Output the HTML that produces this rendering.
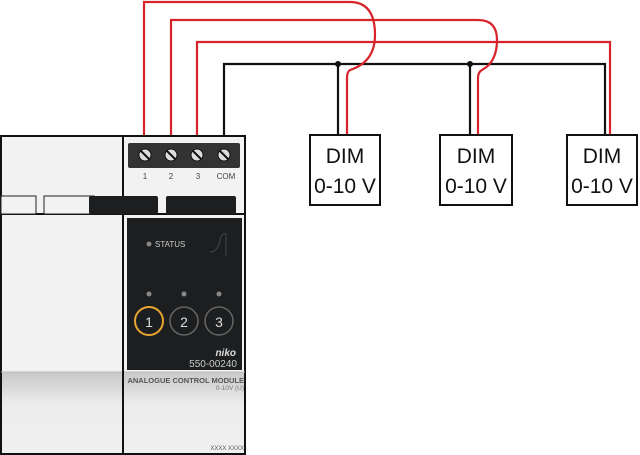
<!DOCTYPE html>
<html><head><style>body{margin:0;background:#fff}svg{display:block}</style></head><body>
<svg width="640" height="455" viewBox="0 0 640 455" xmlns="http://www.w3.org/2000/svg" font-family="Liberation Sans, sans-serif">
<defs><linearGradient id="g" x1="0" y1="0" x2="0" y2="1"><stop offset="0" stop-color="#c8c8c8"/><stop offset="0.4" stop-color="#ececec"/><stop offset="1" stop-color="#f0f0f0"/></linearGradient></defs>
<!-- wires -->
<g fill="none" stroke-width="2.2">
<path d="M224 137 V64 H605 V135" stroke="#111"/>
<path d="M338 64 V135 M470 64 V135" stroke="#111"/>
<path d="M144 137 V2 H350 Q375 2 375 35 Q375 62 350 70 Q347 72 347 78 V135" stroke="#d9232a"/>
<path d="M171 137 V20 H478 Q497 20 497 40 Q497 62 482 70 Q478 72 478 78 V135" stroke="#d9232a"/>
<path d="M197 137 V42 H610 V135" stroke="#d9232a"/>
</g>
<circle cx="338" cy="64" r="3" fill="#111"/><circle cx="470" cy="64" r="3" fill="#111"/>
<!-- DIM boxes -->
<g fill="#fff" stroke="#111" stroke-width="2">
<rect x="310" y="135" width="70" height="70"/><rect x="440" y="135" width="72" height="70"/><rect x="567" y="135" width="70" height="70"/>
</g>
<g font-size="21" text-anchor="middle" fill="#111">
<text x="345" y="163">DIM</text><text x="345" y="193">0-10 V</text>
<text x="476" y="163">DIM</text><text x="476" y="193">0-10 V</text>
<text x="602" y="163">DIM</text><text x="602" y="193">0-10 V</text>
</g>
<!-- device -->
<rect x="1" y="136" width="244" height="318" fill="#f2f2f2" stroke="#111" stroke-width="2"/>
<rect x="2" y="372" width="242" height="81" fill="url(#g)"/>
<line x1="1" y1="372" x2="245" y2="372" stroke="#bbb"/>
<line x1="123" y1="136" x2="123" y2="454" stroke="#111" stroke-width="2"/>
<line x1="1" y1="214" x2="245" y2="214" stroke="#111" stroke-width="2"/>
<rect x="1" y="196" width="35" height="18" fill="#f2f2f2" stroke="#222"/>
<rect x="44" y="196" width="50" height="18" fill="#f2f2f2" stroke="#222"/>
<rect x="89" y="196" width="69" height="18" rx="2" fill="#1c1e20"/>
<rect x="166" y="196" width="70" height="18" rx="2" fill="#1c1e20"/>
<rect x="128" y="143" width="112" height="25" rx="2" fill="#333"/>
<g fill="#ddd" stroke="#111" stroke-width="1">
<circle cx="145" cy="155" r="6"/><circle cx="171" cy="155" r="6"/><circle cx="197" cy="155" r="6"/><circle cx="224" cy="155" r="6"/>
</g>
<g stroke="#111" stroke-width="2"><path d="M141 151 L149 159 M167 151 L175 159 M193 151 L201 159 M220 151 L228 159"/></g>
<g font-size="8" fill="#444" text-anchor="middle"><text x="145" y="179">1</text><text x="171" y="179">2</text><text x="198" y="179">3</text><text x="226" y="179">COM</text></g>
<rect x="127" y="218" width="115" height="152" fill="#1c1e20"/>
<circle cx="149" cy="244" r="2.5" fill="#888"/>
<text x="155" y="247" font-size="8" fill="#ccc">STATUS</text>
<path d="M210 252 Q218 252 220 240 Q222 232 226 234 V256" stroke="#444" fill="none"/>
<g fill="#888"><circle cx="149" cy="294" r="2.5"/><circle cx="184" cy="294" r="2.5"/><circle cx="219" cy="294" r="2.5"/></g>
<circle cx="149" cy="321" r="14" fill="none" stroke="#e8a530" stroke-width="2"/>
<circle cx="184" cy="321" r="14" fill="none" stroke="#666" stroke-width="1.5"/>
<circle cx="219" cy="321" r="14" fill="none" stroke="#666" stroke-width="1.5"/>
<g font-size="14" fill="#ddd" text-anchor="middle"><text x="149" y="327">1</text><text x="184" y="327">2</text><text x="219" y="327">3</text></g>
<text x="236" y="356" font-size="10" font-weight="bold" font-style="italic" fill="#ddd" text-anchor="end">niko</text>
<text x="237" y="367" font-size="10" fill="#ccc" text-anchor="end">550-00240</text>
<text x="244" y="383" font-size="7.5" font-weight="bold" fill="#555" text-anchor="end">ANALOGUE CONTROL MODULE</text>
<text x="244" y="390" font-size="6.5" fill="#777" text-anchor="end">0-10V (U)</text>
<text x="244" y="450" font-size="6" fill="#555" text-anchor="end">XXXX XXXX</text>
</svg>
</body></html>
